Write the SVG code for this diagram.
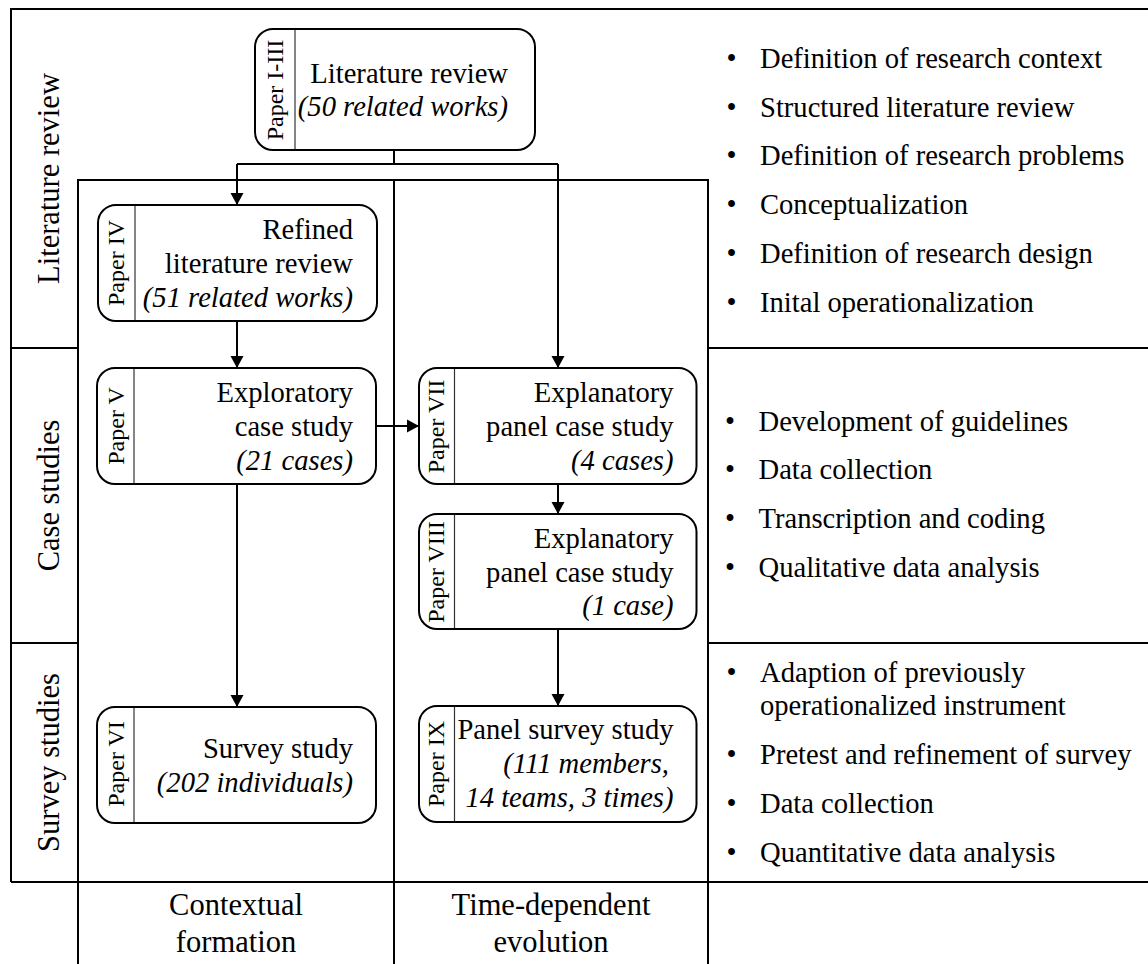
<svg xmlns="http://www.w3.org/2000/svg" width="1148" height="964" viewBox="0 0 1148 964">
<style>
.frame{fill:none;stroke:#000;stroke-width:2}
.node{fill:#fff;stroke:#000;stroke-width:2}
.div{stroke:#333;stroke-width:1.2}
.conn{fill:none;stroke:#000;stroke-width:2}
text{font-family:"Liberation Serif","Times New Roman",serif;fill:#000}
.t{font-size:28.6px;text-anchor:end}
.i{font-style:italic}
.p{font-size:24px;text-anchor:middle}
.row{font-size:30.5px;text-anchor:middle}
.col{font-size:30.5px;text-anchor:middle}
.b{font-size:28.6px}
.bul{font-size:28.6px;text-anchor:middle}
</style>
<defs>
<marker id="arr" markerUnits="userSpaceOnUse" markerWidth="13" markerHeight="14" refX="12" refY="6.5" orient="auto" viewBox="0 0 13 13">
<path d="M0,0 L12,6.5 L0,13 z" fill="#000"/>
</marker>
</defs>
<rect width="1148" height="964" fill="#fff"/>
<g id="frame">
<path class="frame" d="M11,882 V9 H1148"/>
<path class="frame" d="M11,882 H1148"/>
<path class="frame" d="M78,964 V180 H708 V964"/>
<path class="frame" d="M394,180 V964"/>
<path class="frame" d="M11,348 H78 M708,348 H1148"/>
<path class="frame" d="M11,643 H78 M708,643 H1148"/>
</g>
<g id="row-labels">
<text class="row" transform="translate(59,178.5) rotate(-90)">Literature review</text>
<text class="row" transform="translate(59,495.5) rotate(-90)">Case studies</text>
<text class="row" transform="translate(59,762.5) rotate(-90)">Survey studies</text>
</g>
<g id="col-labels">
<text class="col" x="236" y="915">Contextual</text>
<text class="col" x="236" y="952">formation</text>
<text class="col" x="551" y="915">Time-dependent</text>
<text class="col" x="551" y="952">evolution</text>
</g>
<g id="connectors">
<path class="conn" d="M394,150 V164"/>
<path class="conn" d="M237,164 H558"/>
<path class="conn" d="M237,164 V205" marker-end="url(#arr)"/>
<path class="conn" d="M558,164 V368" marker-end="url(#arr)"/>
<path class="conn" d="M237,321 V368" marker-end="url(#arr)"/>
<path class="conn" d="M376,426 H419" marker-end="url(#arr)"/>
<path class="conn" d="M558,484 V514" marker-end="url(#arr)"/>
<path class="conn" d="M237,484 V707" marker-end="url(#arr)"/>
<path class="conn" d="M558,629 V706" marker-end="url(#arr)"/>
</g>
<g id="node-lit">
<rect class="node" x="255" y="29" width="280" height="121" rx="18"/>
<line class="div" x1="295" y1="30" x2="295" y2="149"/>
<text class="p" transform="translate(283,90) rotate(-90)">Paper I-III</text>
<text class="t" x="508" y="83">Literature review</text>
<text class="t i" x="508" y="116">(50 related works)</text>
</g>
<g id="node-refined">
<rect class="node" x="98" y="205" width="279" height="116" rx="18"/>
<line class="div" x1="135" y1="206" x2="135" y2="320"/>
<text class="p" transform="translate(124,263) rotate(-90)">Paper IV</text>
<text class="t" x="353" y="239">Refined</text>
<text class="t" x="353" y="273">literature review</text>
<text class="t i" x="353" y="307">(51 related works)</text>
</g>
<g id="node-exploratory">
<rect class="node" x="97" y="368" width="279" height="116" rx="18"/>
<line class="div" x1="134" y1="369" x2="134" y2="483"/>
<text class="p" transform="translate(123.5,426) rotate(-90)">Paper V</text>
<text class="t" x="353" y="402">Exploratory</text>
<text class="t" x="353" y="436">case study</text>
<text class="t i" x="353" y="470">(21 cases)</text>
</g>
<g id="node-survey">
<rect class="node" x="97" y="707" width="279" height="116" rx="18"/>
<line class="div" x1="134" y1="708" x2="134" y2="822"/>
<text class="p" transform="translate(123.5,764) rotate(-90)">Paper VI</text>
<text class="t" x="353" y="758">Survey study</text>
<text class="t i" x="353" y="792">(202 individuals)</text>
</g>
<g id="node-vii">
<rect class="node" x="419" y="368" width="277.5" height="116" rx="18"/>
<line class="div" x1="454.5" y1="369" x2="454.5" y2="483"/>
<text class="p" transform="translate(444,426.5) rotate(-90)">Paper VII</text>
<text class="t" x="673.5" y="402">Explanatory</text>
<text class="t" x="673.5" y="436">panel case study</text>
<text class="t i" x="673.5" y="470">(4 cases)</text>
</g>
<g id="node-viii">
<rect class="node" x="419" y="514" width="277.5" height="115" rx="18"/>
<line class="div" x1="454.5" y1="515" x2="454.5" y2="628"/>
<text class="p" transform="translate(444,572) rotate(-90)">Paper VIII</text>
<text class="t" x="673.5" y="548">Explanatory</text>
<text class="t" x="673.5" y="582">panel case study</text>
<text class="t i" x="673.5" y="615">(1 case)</text>
</g>
<g id="node-ix">
<rect class="node" x="419" y="706" width="277.5" height="116" rx="18"/>
<line class="div" x1="454.5" y1="707" x2="454.5" y2="821"/>
<text class="p" transform="translate(444,764) rotate(-90)">Paper IX</text>
<text class="t" x="673.5" y="739">Panel survey study</text>
<text class="t i" x="669" y="773">(111 members,</text>
<text class="t i" x="673.5" y="807">14 teams, 3 times)</text>
</g>
<g id="list-literature">
<text class="bul" x="731.5" y="68">•</text><text class="b" x="760" y="68">Definition of research context</text>
<text class="bul" x="731.5" y="116.7">•</text><text class="b" x="760" y="116.7">Structured literature review</text>
<text class="bul" x="731.5" y="165.4">•</text><text class="b" x="760" y="165.4">Definition of research problems</text>
<text class="bul" x="731.5" y="214">•</text><text class="b" x="760" y="214">Conceptualization</text>
<text class="bul" x="731.5" y="262.8">•</text><text class="b" x="760" y="262.8">Definition of research design</text>
<text class="bul" x="731.5" y="311.5">•</text><text class="b" x="760" y="311.5">Inital operationalization</text>
</g>
<g id="list-case">
<text class="bul" x="730" y="430.7">•</text><text class="b" x="758.5" y="430.7">Development of guidelines</text>
<text class="bul" x="730" y="479.3">•</text><text class="b" x="758.5" y="479.3">Data collection</text>
<text class="bul" x="730" y="528">•</text><text class="b" x="758.5" y="528">Transcription and coding</text>
<text class="bul" x="730" y="576.7">•</text><text class="b" x="758.5" y="576.7">Qualitative data analysis</text>
</g>
<g id="list-survey">
<text class="bul" x="731.5" y="681.7">•</text><text class="b" x="760" y="681.7">Adaption of previously</text>
<text class="b" x="760" y="715">operationalized instrument</text>
<text class="bul" x="731.5" y="764">•</text><text class="b" x="760" y="764">Pretest and refinement of survey</text>
<text class="bul" x="731.5" y="813">•</text><text class="b" x="760" y="813">Data collection</text>
<text class="bul" x="731.5" y="862">•</text><text class="b" x="760" y="862">Quantitative data analysis</text>
</g>
</svg>
